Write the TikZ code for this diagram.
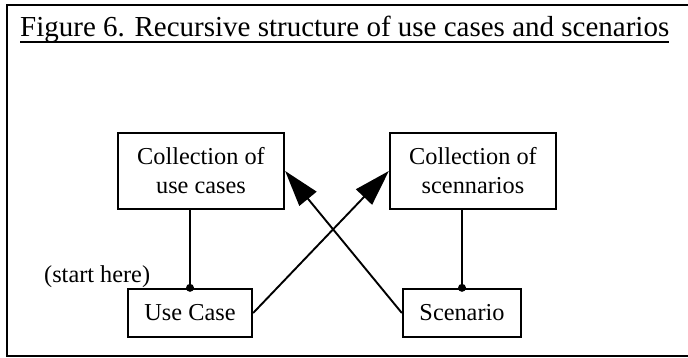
\documentclass[tikz,border=0pt]{standalone}
\usepackage{fontspec}
\setmainfont{Liberation Serif}
\usetikzlibrary{arrows.meta}
\begin{document}
\begin{tikzpicture}[x=1pt,y=-1pt,
  every node/.style={font=\fontsize{24.3}{29}\selectfont},
  box/.style={draw,line width=2.3pt,inner sep=0pt,align=center},
  link/.style={line width=1.9pt},
  bigarrow/.style={link,-{Triangle[length=36pt,width=22pt]}},
  dot/.style={circle,fill,inner sep=0pt,minimum size=8pt}]
\useasboundingbox (0,0) rectangle (688,358);
% page frame (open on the right)
\draw[line width=2.2pt] (690,5) -- (7,5) -- (7,356) -- (690,356);
% title
\node[anchor=base west,inner sep=0pt,font=\fontsize{29}{34}\selectfont] (title) at (20,37)
  {Figure 6. Recursive structure of use cases and scenarios};
\draw[line width=1.5pt] ([yshift=-5pt]title.base west) -- ([yshift=-5pt]title.base east);
% boxes
\node[box,minimum width=166pt,minimum height=76pt] (cuc) at (201,171)
  {Collection of\\use cases};
\node[box,minimum width=166pt,minimum height=76pt] (csc) at (473,171)
  {Collection of\\scennarios};
\node[box,minimum width=124pt,minimum height=48pt] (uc) at (190,313) {Use Case};
\node[box,minimum width=118pt,minimum height=48pt] (sc) at (462,313) {Scenario};
\node[anchor=base west,inner sep=0pt] (start) at (44,282) {(start here)};
% containment links
\draw[link] (cuc.south -| uc.north) -- (uc.north) node[dot] {};
\draw[link] (csc.south -| sc.north) -- (sc.north) node[dot] {};
% crossing arrows
\draw[bigarrow] (uc.east) -- (csc.west);
\draw[bigarrow] (sc.west) -- (cuc.east);
\end{tikzpicture}
\end{document}
